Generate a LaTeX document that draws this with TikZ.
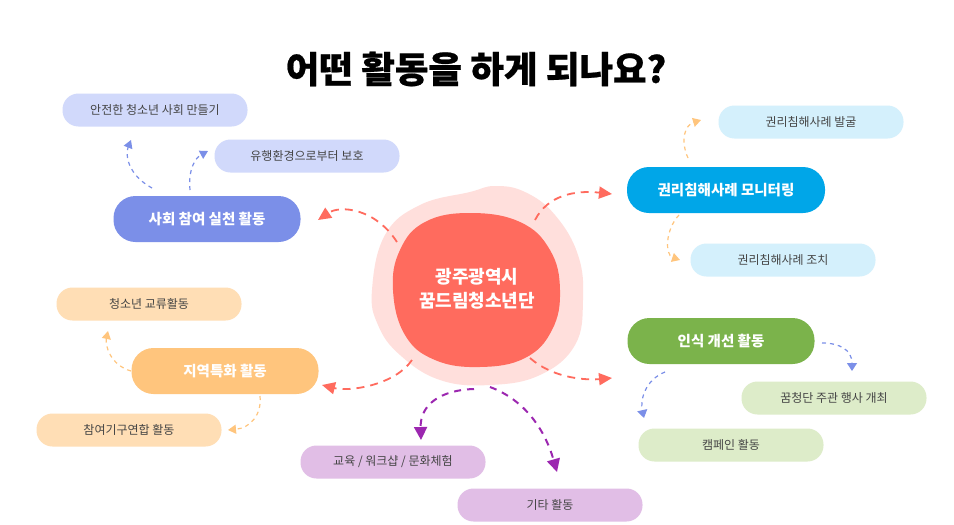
\documentclass[tikz,border=0pt]{standalone}
\usepackage{fontspec}
\newfontfamily\kr{Noto Sans CJK KR}
\newfontfamily\krt{Noto Sans CJK KR}[BoldFeatures={FakeBold=0.6}]
\usetikzlibrary{arrows.meta,calc}
\definecolor{coral}{HTML}{FF6B5E}
\definecolor{pinkl}{HTML}{FFDFDC}
\definecolor{blueM}{HTML}{7B8FE8}
\definecolor{blueL}{HTML}{D1D9FB}
\definecolor{skyM}{HTML}{00A6E8}
\definecolor{skyL}{HTML}{D4F0FC}
\definecolor{orgM}{HTML}{FFC57D}
\definecolor{orgL}{HTML}{FFDEB5}
\definecolor{grnM}{HTML}{7BB34B}
\definecolor{grnL}{HTML}{DDECC9}
\definecolor{purL}{HTML}{E1BEE6}
\definecolor{purM}{HTML}{9C27B0}
\definecolor{txt}{HTML}{454545}
\tikzset{
  catbox/.style={rounded corners=22pt, minimum width=187pt, minimum height=46pt, inner sep=0pt,
    text=white, font=\kr\bfseries\fontsize{14.5}{17}\selectfont},
  leafbox/.style={rounded corners=16pt, minimum width=185pt, minimum height=33pt, inner sep=0pt,
    text=txt, font=\kr\fontsize{12}{14}\selectfont},
  mainarrow/.style={draw=coral, dash pattern=on 8pt off 6pt, line width=1.8pt,
    -{Triangle[length=13pt,width=12pt,fill=coral]}},
  purarrow/.style={draw=purM, dash pattern=on 7pt off 6pt, line width=2pt,
    -{Triangle[length=13pt,width=13pt,fill=purM]}},
  subarrow/.style={dash pattern=on 4pt off 4pt, line width=1.2pt,
    -{Triangle[length=8pt,width=9pt]}},
}
\begin{document}
\begin{tikzpicture}[x=1pt,y=-1pt]
\useasboundingbox (0,0) rectangle (954,525);
\fill[white] (0,0) rectangle (954,525);

% title
\node[font=\krt\bfseries\fontsize{36.5}{40}\selectfont, text=black] (title) at (476,69) {어떤 활동을 하게 되나요?};

% centre blob
\fill[pinkl] plot[smooth cycle, tension=0.7] coordinates {(372,290) (385,235) (420,205) (470,192) (495,186) (525,192) (555,215) (578,255) (583,300) (575,345) (540,375) (490,385) (440,380) (400,355) (378,325)};
\fill[coral] plot[smooth cycle, tension=0.7] coordinates {(393,290) (400,250) (425,222) (470,213) (520,222) (550,250) (560,290) (552,330) (525,358) (480,367) (435,360) (405,335)};
\node[font=\kr\bfseries\fontsize{18}{24}\selectfont, text=white, align=center] (ctr) at (477,289) {광주광역시\\꿈드림청소년단};

% categories
\node[catbox, fill=blueM] (soc) at (207,219) {사회 참여 실천 활동};
\node[catbox, fill=skyM, minimum width=198pt] (mon) at (726,190) {권리침해사례 모니터링};
\node[catbox, fill=orgM] (reg) at (225,371) {지역특화 활동};
\node[catbox, fill=grnM] (awa) at (721,341) {인식 개선 활동};

% leaves
\node[leafbox, fill=blueL] (s1) at (155,110) {안전한 청소년 사회 만들기};
\node[leafbox, fill=blueL] (s2) at (307,156) {유행환경으로부터 보호};
\node[leafbox, fill=skyL] (m1) at (811,122) {권리침해사례 발굴};
\node[leafbox, fill=skyL] (m2) at (783,260) {권리침해사례 조치};
\node[leafbox, fill=orgL] (r1) at (149,304) {청소년 교류활동};
\node[leafbox, fill=orgL] (r2) at (129,430) {참여기구연합 활동};
\node[leafbox, fill=grnL] (a1) at (834,398) {꿈청단 주관 행사 개최};
\node[leafbox, fill=grnL] (a2) at (731,445) {캠페인 활동};
\node[leafbox, fill=purL] (e1) at (393,462) {교육 / 워크샵 / 문화체험};
\node[leafbox, fill=purL] (e2) at (550,505) {기타 활동};

% connector end points
\coordinate (c1s) at (397,242); \coordinate (c1e) at (318,220);
\coordinate (c2s) at (535,220); \coordinate (c2e) at (612,194);
\coordinate (c3s) at (412,360); \coordinate (c3e) at (322,385);
\coordinate (c4s) at (530,358); \coordinate (c4e) at (612,378);
\coordinate (p1s) at (474,389); \coordinate (p1e) at (421,440);
\coordinate (p2s) at (490,387); \coordinate (p2e) at (557,472);

% centre -> categories
\draw[mainarrow] (c1s) .. controls (375,208) and (340,205) .. (c1e);
\draw[mainarrow] (c2s) .. controls (548,195) and (575,190) .. (c2e);
\draw[mainarrow] (c3s) .. controls (395,385) and (350,392) .. (c3e);
\draw[mainarrow] (c4s) .. controls (555,380) and (590,380) .. (c4e);
\draw[purarrow] (p1s) .. controls (440,390) and (420,405) .. (p1e);
\draw[purarrow] (p2s) .. controls (525,400) and (545,430) .. (p2e);

% categories -> leaves
\coordinate (b1s) at (152,188); \coordinate (b1e) at (131,140);
\coordinate (b2s) at (190,190); \coordinate (b2e) at (208,151);
\draw[subarrow, draw=blueM, -{Triangle[length=8pt,width=9pt,fill=blueM]}] (b1s) .. controls (128,175) and (125,155) .. (b1e);
\draw[subarrow, draw=blueM, -{Triangle[length=8pt,width=9pt,fill=blueM]}] (b2s) .. controls (188,170) and (195,158) .. (b2e);

\coordinate (o1s) at (688,158); \coordinate (o1e) at (701,120);
\coordinate (o2s) at (679,215); \coordinate (o2e) at (680,260);
\draw[subarrow, draw=orgM, -{Triangle[length=8pt,width=9pt,fill=orgM]}] (o1s) .. controls (680,140) and (685,125) .. (o1e);
\draw[subarrow, draw=orgM, -{Triangle[length=8pt,width=9pt,fill=orgM]}] (o2s) .. controls (665,230) and (665,255) .. (o2e);

\coordinate (g1s) at (131,371); \coordinate (g1e) at (108,331);
\coordinate (g2s) at (260,396); \coordinate (g2e) at (228,430);
\draw[subarrow, draw=orgM, -{Triangle[length=8pt,width=9pt,fill=orgM]}] (g1s) .. controls (110,365) and (105,345) .. (g1e);
\draw[subarrow, draw=orgM, -{Triangle[length=8pt,width=9pt,fill=orgM]}] (g2s) .. controls (262,415) and (250,428) .. (g2e);

\coordinate (k1s) at (822,343); \coordinate (k1e) at (852,371);
\coordinate (k2s) at (665,372); \coordinate (k2e) at (644,418);
\draw[subarrow, draw=blueM, -{Triangle[length=8pt,width=10pt,fill=blueM]}] (k1s) .. controls (840,343) and (852,350) .. (k1e);
\draw[subarrow, draw=blueM, -{Triangle[length=8pt,width=10pt,fill=blueM]}] (k2s) .. controls (645,380) and (640,400) .. (k2e);
\end{tikzpicture}
\end{document}
